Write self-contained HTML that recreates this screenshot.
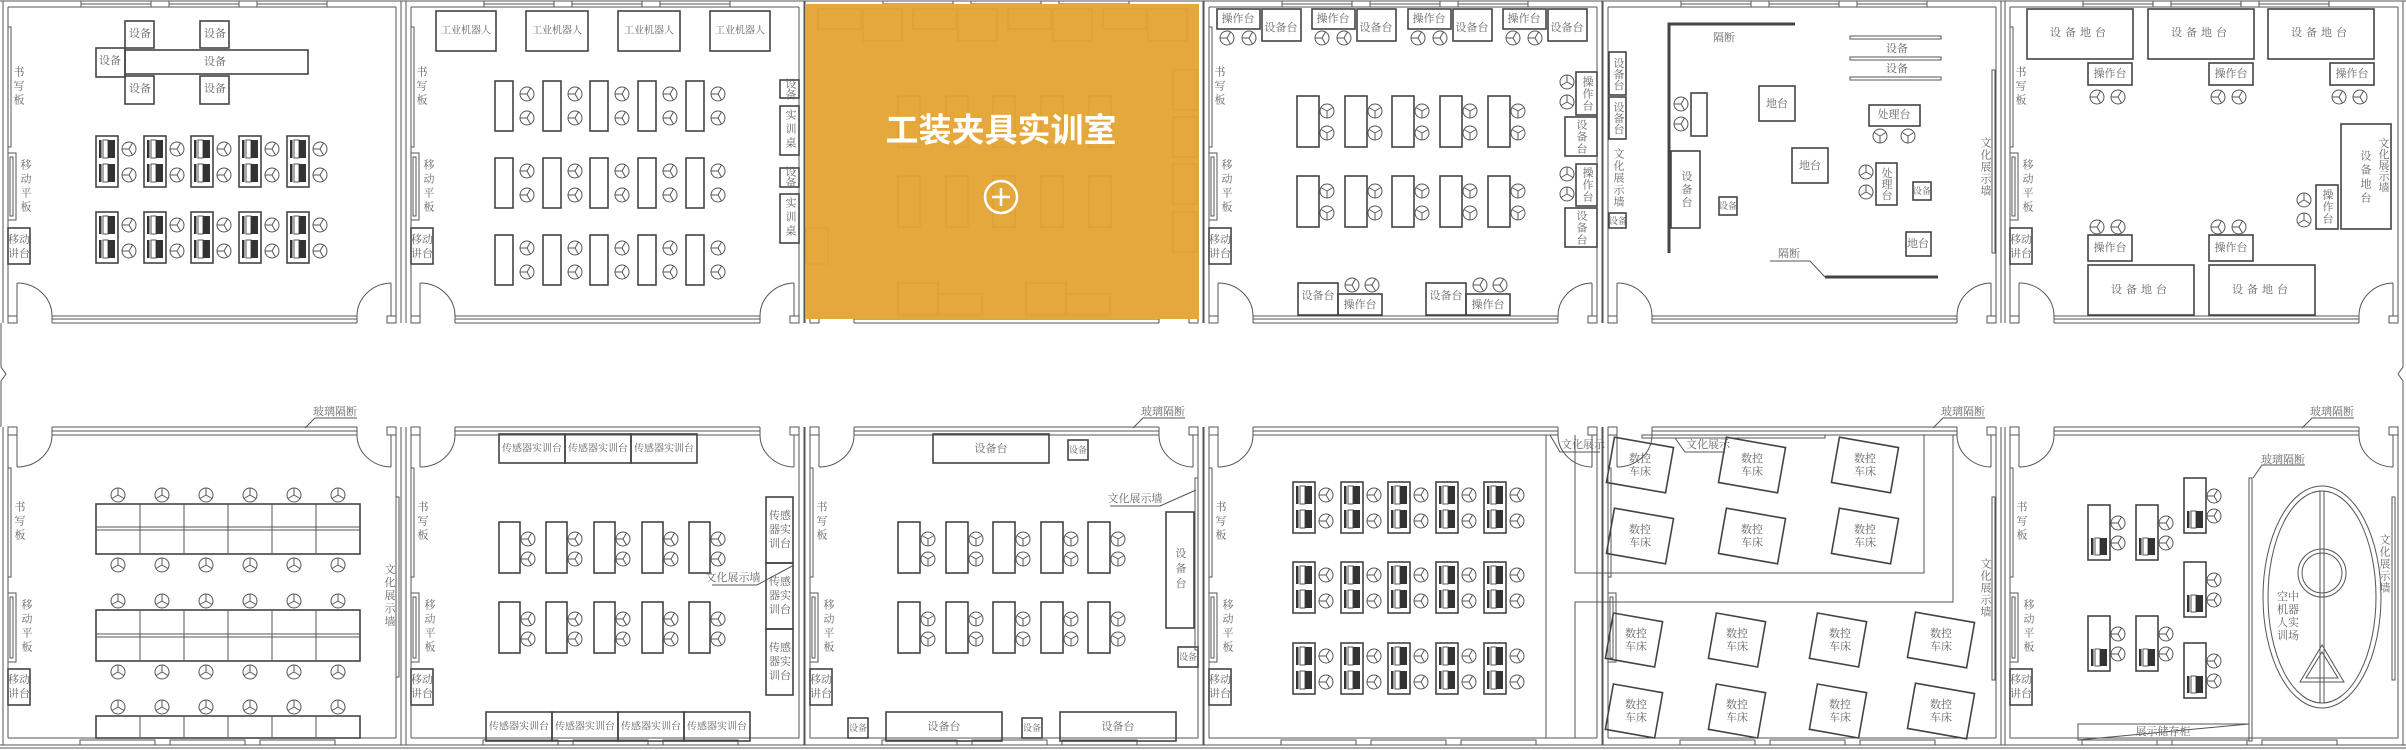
<!DOCTYPE html>
<html><head><meta charset="utf-8"><style>
html,body{margin:0;padding:0;background:#fff;}
svg{display:block;}
text{font-family:"Liberation Serif","Noto Serif CJK SC",serif;fill:#666;font-size:11px;text-anchor:middle;dominant-baseline:central;}
.v{writing-mode:vertical-rl;letter-spacing:3px;}
.b{fill:none;stroke:#444;stroke-width:1.6;}
.l{fill:none;stroke:#555;stroke-width:1;}
.t{fill:none;stroke:#444;stroke-width:3;}
</style></head><body>
<svg width="2406" height="750" viewBox="0 0 2406 750" xmlns="http://www.w3.org/2000/svg">
<defs>
<g id="c" class="l"><circle r="7"/><line x1="0" y1="0" x2="-7" y2="0"/><line x1="0" y1="0" x2="3.5" y2="-6"/><line x1="0" y1="0" x2="3.5" y2="6"/></g>
<g id="c2" class="l"><circle r="7"/><line x1="0" y1="0" x2="0" y2="-7"/><line x1="0" y1="0" x2="-6" y2="3.5"/><line x1="0" y1="0" x2="6" y2="3.5"/></g>
<g id="c3" class="l"><circle r="7"/><line x1="0" y1="0" x2="0" y2="7"/><line x1="0" y1="0" x2="-6" y2="-3.5"/><line x1="0" y1="0" x2="6" y2="-3.5"/></g>
<g id="pc"><rect x="0" y="0" width="22" height="51" class="b"/>
<rect x="3" y="4" width="2.5" height="18" fill="#333"/><rect x="7" y="4" width="5" height="18" class="l"/><rect x="12" y="4" width="7" height="18" fill="#333"/>
<rect x="3" y="28" width="2.5" height="18" fill="#333"/><rect x="7" y="28" width="5" height="18" class="l"/><rect x="12" y="28" width="7" height="18" fill="#333"/></g>
<g id="vpc"><rect x="0" y="0" width="22" height="55" class="b"/>
<rect x="3" y="33" width="2.5" height="17" fill="#333"/><rect x="7" y="33" width="5" height="17" class="l"/><rect x="12" y="33" width="7" height="17" fill="#333"/></g>
<g id="rtw" class="l">
<line x1="8" y1="7" x2="396" y2="7"/>
<rect x="81" y="1" width="70" height="6"/><line x1="81" y1="4" x2="151" y2="4"/>
<rect x="169" y="1" width="70" height="6"/><line x1="169" y1="4" x2="239" y2="4"/>
<rect x="257" y="1" width="70" height="6"/><line x1="257" y1="4" x2="327" y2="4"/>
<line x1="3" y1="1" x2="3" y2="323"/><line x1="8" y1="7" x2="8" y2="316"/>
<line x1="396" y1="7" x2="396" y2="316"/><line x1="401" y1="1" x2="401" y2="323"/>
<line x1="52" y1="316" x2="357" y2="316"/><line x1="52" y1="319" x2="357" y2="319"/><line x1="52" y1="323" x2="357" y2="323"/>
<line x1="52" y1="316" x2="52" y2="323"/><line x1="357" y1="316" x2="357" y2="323"/>
<rect x="8" y="316" width="9" height="7"/><rect x="387" y="316" width="9" height="7"/>
<line x1="17" y1="283" x2="17" y2="316"/><line x1="391" y1="283" x2="391" y2="316"/>
<path d="M17,283 A35,33 0 0 1 52,316"/><path d="M391,283 A35,33 0 0 0 357,316"/>
</g>
<g id="rtb" class="l">
<rect x="8" y="27" width="3" height="120"/>
<rect x="8" y="153" width="8" height="67"/><rect x="10" y="157" width="3" height="59"/>
</g>
<g id="rbw" class="l">
<line x1="3" y1="427" x2="3" y2="745"/><line x1="8" y1="435" x2="8" y2="738"/>
<line x1="396" y1="435" x2="396" y2="738"/><line x1="401" y1="427" x2="401" y2="745"/>
<line x1="52" y1="427" x2="357" y2="427"/><line x1="52" y1="431" x2="357" y2="431"/><line x1="52" y1="435" x2="357" y2="435"/>
<line x1="52" y1="427" x2="52" y2="435"/><line x1="357" y1="427" x2="357" y2="435"/>
<rect x="8" y="427" width="9" height="8"/><rect x="387" y="427" width="9" height="8"/>
<line x1="17" y1="435" x2="17" y2="467"/><line x1="391" y1="435" x2="391" y2="467"/>
<path d="M52,435 A35,32 0 0 1 17,467"/><path d="M357,435 A35,32 0 0 0 391,467"/>
<line x1="8" y1="738" x2="396" y2="738"/>
<rect x="80" y="740" width="75" height="5"/><rect x="170" y="740" width="75" height="5"/><rect x="260" y="740" width="75" height="5"/>
</g>
<g id="rbb" class="l">
<rect x="8" y="468" width="3" height="109"/>
<rect x="8" y="593" width="8" height="69"/><rect x="10" y="597" width="3" height="61"/>
</g>
</defs>

<g class="l">
<line x1="0" y1="1" x2="2406" y2="1"/>
<line x1="0" y1="745" x2="2406" y2="745"/><line x1="0" y1="748" x2="2406" y2="748"/>
<path d="M1,323 V367 L6,374 L1,381 V427"/>
<path d="M2403,323 V367 L2398,374 L2403,381 V427"/>
</g>

<use href="#rtw" x="0"/><use href="#rtb" x="0"/>
<use href="#rtw" x="403"/><use href="#rtb" x="403"/>
<use href="#rtw" x="802"/>
<use href="#rtw" x="1201"/><use href="#rtb" x="1201"/>
<use href="#rtw" x="1600"/>
<use href="#rtw" x="2002"/><use href="#rtb" x="2002"/>
<use href="#rbw" x="0"/><use href="#rbb" x="0"/>
<use href="#rbw" x="403"/><use href="#rbb" x="403"/>
<use href="#rbw" x="802"/><use href="#rbb" x="802"/>
<use href="#rbw" x="1201"/><use href="#rbb" x="1201"/>
<use href="#rbw" x="1600"/><use href="#rbb" x="1600"/>
<use href="#rbw" x="2002"/><use href="#rbb" x="2002"/>

<text class="v" x="18" y="87">书写板</text><text class="v" x="25" y="187">移动平板</text>
<rect class="b" x="8" y="228" width="22" height="36"/><text x="19" y="240">移动</text><text x="19" y="254">讲台</text>
<text class="v" x="421" y="87">书写板</text><text class="v" x="428" y="187">移动平板</text>
<rect class="b" x="411" y="228" width="22" height="36"/><text x="422" y="240">移动</text><text x="422" y="254">讲台</text>
<text class="v" x="1219" y="87">书写板</text><text class="v" x="1226" y="187">移动平板</text>
<rect class="b" x="1209" y="228" width="22" height="36"/><text x="1220" y="240">移动</text><text x="1220" y="254">讲台</text>
<text class="v" x="2020" y="87">书写板</text><text class="v" x="2027" y="187">移动平板</text>
<rect class="b" x="2010" y="228" width="22" height="36"/><text x="2021" y="240">移动</text><text x="2021" y="254">讲台</text>

<!-- ROOM 1 top -->
<g class="b">
<rect x="125" y="21" width="29" height="27"/><rect x="200" y="21" width="29" height="27"/>
<rect x="96" y="48" width="29" height="29"/><rect x="125" y="50" width="183" height="24"/>
<rect x="125" y="76" width="29" height="28"/><rect x="200" y="76" width="29" height="28"/>
</g>
<text x="140" y="34">设备</text><text x="215" y="34">设备</text><text x="110" y="61">设备</text>
<text x="215" y="62">设备</text><text x="140" y="89">设备</text><text x="215" y="89">设备</text>
<g>
<use href="#pc" x="96" y="136"/><use href="#pc" x="144" y="136"/><use href="#pc" x="191" y="136"/><use href="#pc" x="239" y="136"/><use href="#pc" x="287" y="136"/>
<use href="#pc" x="96" y="212"/><use href="#pc" x="144" y="212"/><use href="#pc" x="191" y="212"/><use href="#pc" x="239" y="212"/><use href="#pc" x="287" y="212"/>
<use href="#c" x="129" y="149"/><use href="#c" x="129" y="175"/><use href="#c" x="177" y="149"/><use href="#c" x="177" y="175"/><use href="#c" x="224" y="149"/><use href="#c" x="224" y="175"/><use href="#c" x="272" y="149"/><use href="#c" x="272" y="175"/><use href="#c" x="320" y="149"/><use href="#c" x="320" y="175"/>
<use href="#c" x="129" y="225"/><use href="#c" x="129" y="251"/><use href="#c" x="177" y="225"/><use href="#c" x="177" y="251"/><use href="#c" x="224" y="225"/><use href="#c" x="224" y="251"/><use href="#c" x="272" y="225"/><use href="#c" x="272" y="251"/><use href="#c" x="320" y="225"/><use href="#c" x="320" y="251"/>
</g>

<!-- ROOM 2 top -->
<g class="b">
<rect x="436" y="11" width="60" height="40"/><rect x="526" y="11" width="62" height="40"/><rect x="618" y="11" width="62" height="40"/><rect x="710" y="11" width="60" height="40"/>
<rect x="780" y="80" width="19" height="18"/><rect x="780" y="106" width="19" height="49"/><rect x="780" y="168" width="19" height="19"/><rect x="780" y="194" width="19" height="49"/>
</g>
<text x="466" y="31" style="font-size:10px">工业机器人</text><text x="557" y="31" style="font-size:10px">工业机器人</text><text x="649" y="31" style="font-size:10px">工业机器人</text><text x="740" y="31" style="font-size:10px">工业机器人</text>
<text class="v" x="790" y="89" style="letter-spacing:0">设备</text><text class="v" x="790" y="130">实训桌</text>
<text class="v" x="790" y="177" style="letter-spacing:0">设备</text><text class="v" x="790" y="218">实训桌</text>
<g class="b">
<rect x="495" y="81" width="18" height="50"/><rect x="543" y="81" width="18" height="50"/><rect x="590" y="81" width="18" height="50"/><rect x="638" y="81" width="18" height="50"/><rect x="686" y="81" width="18" height="50"/>
<rect x="495" y="158" width="18" height="50"/><rect x="543" y="158" width="18" height="50"/><rect x="590" y="158" width="18" height="50"/><rect x="638" y="158" width="18" height="50"/><rect x="686" y="158" width="18" height="50"/>
<rect x="495" y="235" width="18" height="50"/><rect x="543" y="235" width="18" height="50"/><rect x="590" y="235" width="18" height="50"/><rect x="638" y="235" width="18" height="50"/><rect x="686" y="235" width="18" height="50"/>
</g>
<g>
<use href="#c" x="527" y="94"/><use href="#c" x="527" y="118"/><use href="#c" x="575" y="94"/><use href="#c" x="575" y="118"/><use href="#c" x="622" y="94"/><use href="#c" x="622" y="118"/><use href="#c" x="670" y="94"/><use href="#c" x="670" y="118"/><use href="#c" x="718" y="94"/><use href="#c" x="718" y="118"/>
<use href="#c" x="527" y="171"/><use href="#c" x="527" y="195"/><use href="#c" x="575" y="171"/><use href="#c" x="575" y="195"/><use href="#c" x="622" y="171"/><use href="#c" x="622" y="195"/><use href="#c" x="670" y="171"/><use href="#c" x="670" y="195"/><use href="#c" x="718" y="171"/><use href="#c" x="718" y="195"/>
<use href="#c" x="527" y="248"/><use href="#c" x="527" y="272"/><use href="#c" x="575" y="248"/><use href="#c" x="575" y="272"/><use href="#c" x="622" y="248"/><use href="#c" x="622" y="272"/><use href="#c" x="670" y="248"/><use href="#c" x="670" y="272"/><use href="#c" x="718" y="248"/><use href="#c" x="718" y="272"/>
</g>

<!-- ROOM 3 orange -->
<rect x="806" y="4" width="393" height="315" fill="#E5A83C"/>
<g opacity="0.15" class="l" style="stroke:#a06a10">
<rect x="818" y="9" width="43" height="20"/><rect x="863" y="9" width="39" height="32"/><rect x="913" y="9" width="43" height="20"/><rect x="958" y="9" width="39" height="32"/><rect x="1008" y="9" width="43" height="20"/><rect x="1053" y="9" width="39" height="32"/><rect x="1103" y="9" width="43" height="20"/><rect x="1148" y="9" width="39" height="32"/>
<rect x="898" y="96" width="22" height="51"/><rect x="946" y="96" width="22" height="51"/><rect x="993" y="96" width="22" height="51"/><rect x="1041" y="96" width="22" height="51"/><rect x="1089" y="96" width="22" height="51"/>
<rect x="898" y="176" width="22" height="51"/><rect x="946" y="176" width="22" height="51"/><rect x="993" y="176" width="22" height="51"/><rect x="1041" y="176" width="22" height="51"/><rect x="1089" y="176" width="22" height="51"/>
<rect x="1173" y="70" width="24" height="40"/><rect x="1173" y="117" width="24" height="40"/><rect x="1173" y="164" width="24" height="40"/><rect x="1173" y="212" width="24" height="40"/>
<rect x="898" y="283" width="40" height="32"/><rect x="938" y="294" width="44" height="21"/><rect x="1026" y="283" width="40" height="32"/><rect x="1066" y="294" width="44" height="21"/>
<rect x="806" y="228" width="22" height="36"/>
</g>
<text x="1001" y="130" style="fill:#fff;font-size:33px;font-weight:bold;font-family:'Liberation Sans','Noto Sans CJK SC',sans-serif">工装夹具实训室</text>
<circle cx="1001" cy="197" r="16" fill="none" stroke="#fff" stroke-width="2.5"/>
<line x1="992" y1="197" x2="1010" y2="197" stroke="#fff" stroke-width="2.5"/><line x1="1001" y1="188" x2="1001" y2="206" stroke="#fff" stroke-width="2.5"/>

<!-- ROOM 4 top -->
<g class="b">
<rect x="1217" y="9" width="43" height="20"/><rect x="1262" y="9" width="39" height="32"/>
<rect x="1312" y="9" width="43" height="20"/><rect x="1357" y="9" width="39" height="32"/>
<rect x="1408" y="9" width="43" height="20"/><rect x="1453" y="9" width="39" height="32"/>
<rect x="1503" y="9" width="43" height="20"/><rect x="1548" y="9" width="39" height="32"/>
<rect x="1297" y="96" width="22" height="51"/><rect x="1345" y="96" width="22" height="51"/><rect x="1392" y="96" width="22" height="51"/><rect x="1440" y="96" width="22" height="51"/><rect x="1488" y="96" width="22" height="51"/>
<rect x="1297" y="176" width="22" height="51"/><rect x="1345" y="176" width="22" height="51"/><rect x="1392" y="176" width="22" height="51"/><rect x="1440" y="176" width="22" height="51"/><rect x="1488" y="176" width="22" height="51"/>
<rect x="1576" y="72" width="21" height="43"/><rect x="1565" y="117" width="32" height="39"/>
<rect x="1576" y="164" width="21" height="42"/><rect x="1565" y="208" width="32" height="39"/>
<rect x="1298" y="283" width="40" height="32"/><rect x="1338" y="294" width="44" height="21"/>
<rect x="1426" y="283" width="40" height="32"/><rect x="1466" y="294" width="44" height="21"/>
</g>
<text x="1238" y="19">操作台</text><text x="1281" y="28">设备台</text>
<text x="1333" y="19">操作台</text><text x="1376" y="28">设备台</text>
<text x="1429" y="19">操作台</text><text x="1472" y="28">设备台</text>
<text x="1524" y="19">操作台</text><text x="1567" y="28">设备台</text>
<text class="v" x="1587" y="94" style="letter-spacing:1px">操作台</text><text class="v" x="1581" y="137" style="letter-spacing:1px">设备台</text>
<text class="v" x="1587" y="185" style="letter-spacing:1px">操作台</text><text class="v" x="1581" y="228" style="letter-spacing:1px">设备台</text>
<text x="1318" y="296">设备台</text><text x="1360" y="305">操作台</text>
<text x="1446" y="296">设备台</text><text x="1488" y="305">操作台</text>
<g>
<use href="#c" x="1227" y="38"/><use href="#c" x="1249" y="38"/><use href="#c" x="1322" y="38"/><use href="#c" x="1344" y="38"/><use href="#c" x="1418" y="38"/><use href="#c" x="1440" y="38"/><use href="#c" x="1513" y="38"/><use href="#c" x="1535" y="38"/>
<use href="#c3" x="1327" y="111"/><use href="#c3" x="1327" y="133"/><use href="#c3" x="1375" y="111"/><use href="#c3" x="1375" y="133"/><use href="#c3" x="1422" y="111"/><use href="#c3" x="1422" y="133"/><use href="#c3" x="1470" y="111"/><use href="#c3" x="1470" y="133"/><use href="#c3" x="1518" y="111"/><use href="#c3" x="1518" y="133"/>
<use href="#c3" x="1327" y="191"/><use href="#c3" x="1327" y="213"/><use href="#c3" x="1375" y="191"/><use href="#c3" x="1375" y="213"/><use href="#c3" x="1422" y="191"/><use href="#c3" x="1422" y="213"/><use href="#c3" x="1470" y="191"/><use href="#c3" x="1470" y="213"/><use href="#c3" x="1518" y="191"/><use href="#c3" x="1518" y="213"/>
<use href="#c2" x="1567" y="82"/><use href="#c2" x="1567" y="102"/><use href="#c2" x="1567" y="174"/><use href="#c2" x="1567" y="194"/>
<use href="#c" x="1352" y="285"/><use href="#c" x="1372" y="285"/><use href="#c" x="1480" y="285"/><use href="#c" x="1500" y="285"/>
</g>

<!-- ROOM 5 top -->
<g class="b">
<rect x="1609" y="52" width="17" height="43"/><rect x="1609" y="97" width="17" height="42"/><rect x="1609" y="213" width="17" height="15"/>
<rect x="1691" y="93" width="16" height="43"/><rect x="1671" y="151" width="29" height="77"/><rect x="1719" y="197" width="18" height="18"/>
<rect x="1759" y="86" width="36" height="35"/><rect x="1792" y="148" width="36" height="35"/>
<rect x="1869" y="105" width="51" height="21"/><rect x="1876" y="163" width="21" height="42"/>
<rect x="1913" y="182" width="18" height="18"/><rect x="1906" y="232" width="25" height="24"/>
</g>
<text class="v" x="1618" y="74" style="letter-spacing:0">设备台</text><text class="v" x="1618" y="118" style="letter-spacing:0">设备台</text>
<text class="v" x="1618" y="178" style="letter-spacing:1px">文化展示墙</text><text x="1618" y="221" style="font-size:9px">设备</text>
<path class="t" d="M1669,253 V24 H1795"/>
<text x="1724" y="38">隔断</text>
<g class="l"><rect x="1850" y="36" width="91" height="3"/><rect x="1850" y="57" width="91" height="3"/><rect x="1850" y="77" width="91" height="3"/></g>
<text x="1897" y="49">设备</text><text x="1897" y="69">设备</text>
<text class="v" x="1686" y="190" style="letter-spacing:2px">设备台</text><text x="1728" y="206" style="font-size:9px">设备</text>
<text x="1777" y="104">地台</text><text x="1810" y="166">地台</text><text x="1894" y="115">处理台</text>
<text class="v" x="1886" y="184" style="letter-spacing:0">处理台</text><text x="1922" y="191" style="font-size:9px">设备</text><text x="1918" y="244">地台</text>
<g><use href="#c" x="1681" y="104"/><use href="#c" x="1681" y="124"/><use href="#c3" x="1880" y="136"/><use href="#c3" x="1908" y="136"/><use href="#c2" x="1866" y="172"/><use href="#c2" x="1866" y="192"/></g>
<path class="l" d="M1770,261 H1810 L1825,277"/><line class="t" x1="1825" y1="277" x2="1938" y2="277"/>
<text x="1789" y="254">隔断</text>
<rect class="l" x="1992" y="70" width="3" height="183"/>
<text class="v" x="1985" y="167" style="letter-spacing:1px">文化展示墙</text>

<!-- ROOM 6 top -->
<g class="b">
<rect x="2027" y="9" width="106" height="50"/><rect x="2148" y="9" width="106" height="50"/><rect x="2268" y="9" width="106" height="50"/>
<rect x="2088" y="63" width="44" height="22"/><rect x="2209" y="63" width="44" height="22"/><rect x="2330" y="63" width="44" height="22"/>
<rect x="2341" y="124" width="50" height="105"/><rect x="2316" y="185" width="22" height="44"/>
<rect x="2088" y="235" width="44" height="26"/><rect x="2209" y="235" width="44" height="26"/>
<rect x="2088" y="265" width="106" height="50"/><rect x="2209" y="265" width="106" height="50"/>
</g>
<text x="2080" y="33" style="letter-spacing:4px">设备地台</text><text x="2201" y="33" style="letter-spacing:4px">设备地台</text><text x="2321" y="33" style="letter-spacing:4px">设备地台</text>
<text x="2110" y="74">操作台</text><text x="2231" y="74">操作台</text><text x="2352" y="74">操作台</text>
<text class="v" x="2365" y="178" style="letter-spacing:3px">设备地台</text><text class="v" x="2383" y="165" style="letter-spacing:0">文化展示墙</text>
<text class="v" x="2327" y="207" style="letter-spacing:1px">操作台</text>
<text x="2110" y="248">操作台</text><text x="2231" y="248">操作台</text>
<text x="2141" y="290" style="letter-spacing:4px">设备地台</text><text x="2262" y="290" style="letter-spacing:4px">设备地台</text>
<g><use href="#c" x="2097" y="97"/><use href="#c" x="2118" y="97"/><use href="#c" x="2218" y="97"/><use href="#c" x="2239" y="97"/><use href="#c" x="2339" y="97"/><use href="#c" x="2360" y="97"/>
<use href="#c2" x="2304" y="200"/><use href="#c2" x="2304" y="220"/>
<use href="#c" x="2097" y="227"/><use href="#c" x="2118" y="227"/><use href="#c" x="2218" y="227"/><use href="#c" x="2239" y="227"/></g>

<text class="v" x="19" y="522">书写板</text><text class="v" x="26" y="627">移动平板</text>
<rect class="b" x="8" y="669" width="22" height="36"/><text x="19" y="680">移动</text><text x="19" y="694">讲台</text>
<text class="v" x="422" y="522">书写板</text><text class="v" x="429" y="627">移动平板</text>
<rect class="b" x="411" y="669" width="22" height="36"/><text x="422" y="680">移动</text><text x="422" y="694">讲台</text>
<text class="v" x="821" y="522">书写板</text><text class="v" x="828" y="627">移动平板</text>
<rect class="b" x="810" y="669" width="22" height="36"/><text x="821" y="680">移动</text><text x="821" y="694">讲台</text>
<text class="v" x="1220" y="522">书写板</text><text class="v" x="1227" y="627">移动平板</text>
<rect class="b" x="1209" y="669" width="22" height="36"/><text x="1220" y="680">移动</text><text x="1220" y="694">讲台</text>
<text class="v" x="2021" y="522">书写板</text><text class="v" x="2028" y="627">移动平板</text>
<rect class="b" x="2010" y="669" width="22" height="36"/><text x="2021" y="680">移动</text><text x="2021" y="694">讲台</text>

<g class="l">
<path d="M305,428 L315,418 H357"/><path d="M1133,428 L1143,418 H1185"/><path d="M1933,428 L1943,418 H1985"/><path d="M2302,428 L2312,418 H2354"/>
</g>
<text x="335" y="412">玻璃隔断</text><text x="1163" y="412">玻璃隔断</text><text x="1963" y="412">玻璃隔断</text><text x="2332" y="412">玻璃隔断</text>

<!-- B ROOM 1 -->
<g class="b">
<rect x="96" y="504" width="264" height="50"/><rect x="96" y="610" width="264" height="51"/><rect x="96" y="716" width="264" height="22"/>
</g>
<g class="l">
<line x1="96" y1="527" x2="360" y2="527"/><line x1="96" y1="530" x2="360" y2="530"/>
<line x1="96" y1="634" x2="360" y2="634"/><line x1="96" y1="637" x2="360" y2="637"/>
<line x1="140" y1="504" x2="140" y2="554"/><line x1="184" y1="504" x2="184" y2="554"/><line x1="228" y1="504" x2="228" y2="554"/><line x1="272" y1="504" x2="272" y2="554"/><line x1="316" y1="504" x2="316" y2="554"/>
<line x1="140" y1="610" x2="140" y2="661"/><line x1="184" y1="610" x2="184" y2="661"/><line x1="228" y1="610" x2="228" y2="661"/><line x1="272" y1="610" x2="272" y2="661"/><line x1="316" y1="610" x2="316" y2="661"/>
<line x1="140" y1="716" x2="140" y2="738"/><line x1="184" y1="716" x2="184" y2="738"/><line x1="228" y1="716" x2="228" y2="738"/><line x1="272" y1="716" x2="272" y2="738"/><line x1="316" y1="716" x2="316" y2="738"/>
<rect x="396" y="497" width="3" height="180"/>
</g>
<g>
<use href="#c2" x="118" y="495"/><use href="#c2" x="162" y="495"/><use href="#c2" x="206" y="495"/><use href="#c2" x="250" y="495"/><use href="#c2" x="294" y="495"/><use href="#c2" x="338" y="495"/>
<use href="#c2" x="118" y="565"/><use href="#c2" x="162" y="565"/><use href="#c2" x="206" y="565"/><use href="#c2" x="250" y="565"/><use href="#c2" x="294" y="565"/><use href="#c2" x="338" y="565"/>
<use href="#c2" x="118" y="601"/><use href="#c2" x="162" y="601"/><use href="#c2" x="206" y="601"/><use href="#c2" x="250" y="601"/><use href="#c2" x="294" y="601"/><use href="#c2" x="338" y="601"/>
<use href="#c2" x="118" y="672"/><use href="#c2" x="162" y="672"/><use href="#c2" x="206" y="672"/><use href="#c2" x="250" y="672"/><use href="#c2" x="294" y="672"/><use href="#c2" x="338" y="672"/>
<use href="#c2" x="118" y="707"/><use href="#c2" x="162" y="707"/><use href="#c2" x="206" y="707"/><use href="#c2" x="250" y="707"/><use href="#c2" x="294" y="707"/><use href="#c2" x="338" y="707"/>
</g>
<text class="v" x="389" y="596" style="letter-spacing:2px">文化展示墙</text>

<!-- B ROOM 2 -->
<g class="b">
<rect x="499" y="434" width="66" height="29"/><rect x="565" y="434" width="66" height="29"/><rect x="631" y="434" width="66" height="29"/>
<rect x="766" y="497" width="27" height="66"/><rect x="766" y="563" width="27" height="66"/><rect x="766" y="629" width="27" height="66"/>
<rect x="486" y="712" width="66" height="29"/><rect x="552" y="712" width="66" height="29"/><rect x="618" y="712" width="66" height="29"/><rect x="684" y="712" width="66" height="29"/>
<rect x="499" y="522" width="21" height="51"/><rect x="546" y="522" width="21" height="51"/><rect x="594" y="522" width="21" height="51"/><rect x="642" y="522" width="21" height="51"/><rect x="689" y="522" width="21" height="51"/>
<rect x="499" y="602" width="21" height="51"/><rect x="546" y="602" width="21" height="51"/><rect x="594" y="602" width="21" height="51"/><rect x="642" y="602" width="21" height="51"/><rect x="689" y="602" width="21" height="51"/>
</g>
<text x="532" y="449" style="font-size:10px">传感器实训台</text><text x="598" y="449" style="font-size:10px">传感器实训台</text><text x="664" y="449" style="font-size:10px">传感器实训台</text>
<text x="519" y="727" style="font-size:10px">传感器实训台</text><text x="585" y="727" style="font-size:10px">传感器实训台</text><text x="651" y="727" style="font-size:10px">传感器实训台</text><text x="717" y="727" style="font-size:10px">传感器实训台</text>
<text x="780" y="516">传感</text><text x="780" y="530">器实</text><text x="780" y="544">训台</text>
<text x="780" y="582">传感</text><text x="780" y="596">器实</text><text x="780" y="610">训台</text>
<text x="780" y="648">传感</text><text x="780" y="662">器实</text><text x="780" y="676">训台</text>
<path class="l" d="M712,585 H757 L794,565"/><text x="733" y="578">文化展示墙</text>
<g>
<use href="#c" x="528" y="539"/><use href="#c" x="528" y="559"/><use href="#c" x="575" y="539"/><use href="#c" x="575" y="559"/><use href="#c" x="623" y="539"/><use href="#c" x="623" y="559"/><use href="#c" x="671" y="539"/><use href="#c" x="671" y="559"/><use href="#c" x="718" y="539"/><use href="#c" x="718" y="559"/>
<use href="#c" x="528" y="619"/><use href="#c" x="528" y="639"/><use href="#c" x="575" y="619"/><use href="#c" x="575" y="639"/><use href="#c" x="623" y="619"/><use href="#c" x="623" y="639"/><use href="#c" x="671" y="619"/><use href="#c" x="671" y="639"/><use href="#c" x="718" y="619"/><use href="#c" x="718" y="639"/>
</g>

<!-- B ROOM 3 -->
<g class="b">
<rect x="933" y="434" width="116" height="29"/><rect x="1068" y="440" width="20" height="20"/>
<rect x="1166" y="512" width="28" height="116"/><rect x="1178" y="647" width="20" height="20"/>
<rect x="848" y="718" width="20" height="20"/><rect x="886" y="712" width="116" height="29"/><rect x="1022" y="718" width="20" height="20"/><rect x="1060" y="712" width="116" height="29"/>
<rect x="898" y="522" width="22" height="51"/><rect x="946" y="522" width="22" height="51"/><rect x="993" y="522" width="22" height="51"/><rect x="1041" y="522" width="22" height="51"/><rect x="1088" y="522" width="22" height="51"/>
<rect x="898" y="602" width="22" height="51"/><rect x="946" y="602" width="22" height="51"/><rect x="993" y="602" width="22" height="51"/><rect x="1041" y="602" width="22" height="51"/><rect x="1088" y="602" width="22" height="51"/>
</g>
<rect class="l" x="1195" y="478" width="3" height="172"/>
<text x="991" y="449">设备台</text><text x="1078" y="450" style="font-size:9px">设备</text>
<text class="v" x="1180" y="570" style="letter-spacing:4px">设备台</text><text x="1188" y="657" style="font-size:9px">设备</text>
<text x="858" y="728" style="font-size:9px">设备</text><text x="944" y="727">设备台</text><text x="1032" y="728" style="font-size:9px">设备</text><text x="1118" y="727">设备台</text>
<path class="l" d="M1110,506 H1160 L1196,490"/><text x="1135" y="499">文化展示墙</text>
<g>
<use href="#c3" x="928" y="539"/><use href="#c3" x="928" y="559"/><use href="#c3" x="976" y="539"/><use href="#c3" x="976" y="559"/><use href="#c3" x="1023" y="539"/><use href="#c3" x="1023" y="559"/><use href="#c3" x="1071" y="539"/><use href="#c3" x="1071" y="559"/><use href="#c3" x="1118" y="539"/><use href="#c3" x="1118" y="559"/>
<use href="#c3" x="928" y="619"/><use href="#c3" x="928" y="639"/><use href="#c3" x="976" y="619"/><use href="#c3" x="976" y="639"/><use href="#c3" x="1023" y="619"/><use href="#c3" x="1023" y="639"/><use href="#c3" x="1071" y="619"/><use href="#c3" x="1071" y="639"/><use href="#c3" x="1118" y="619"/><use href="#c3" x="1118" y="639"/>
</g>

<!-- B ROOM 4 -->
<g>
<use href="#pc" x="1293" y="482"/><use href="#pc" x="1341" y="482"/><use href="#pc" x="1388" y="482"/><use href="#pc" x="1436" y="482"/><use href="#pc" x="1484" y="482"/>
<use href="#pc" x="1293" y="562"/><use href="#pc" x="1341" y="562"/><use href="#pc" x="1388" y="562"/><use href="#pc" x="1436" y="562"/><use href="#pc" x="1484" y="562"/>
<use href="#pc" x="1293" y="643"/><use href="#pc" x="1341" y="643"/><use href="#pc" x="1388" y="643"/><use href="#pc" x="1436" y="643"/><use href="#pc" x="1484" y="643"/>
<use href="#c" x="1326" y="495"/><use href="#c" x="1326" y="521"/><use href="#c" x="1374" y="495"/><use href="#c" x="1374" y="521"/><use href="#c" x="1421" y="495"/><use href="#c" x="1421" y="521"/><use href="#c" x="1469" y="495"/><use href="#c" x="1469" y="521"/><use href="#c" x="1517" y="495"/><use href="#c" x="1517" y="521"/>
<use href="#c" x="1326" y="575"/><use href="#c" x="1326" y="601"/><use href="#c" x="1374" y="575"/><use href="#c" x="1374" y="601"/><use href="#c" x="1421" y="575"/><use href="#c" x="1421" y="601"/><use href="#c" x="1469" y="575"/><use href="#c" x="1469" y="601"/><use href="#c" x="1517" y="575"/><use href="#c" x="1517" y="601"/>
<use href="#c" x="1326" y="656"/><use href="#c" x="1326" y="682"/><use href="#c" x="1374" y="656"/><use href="#c" x="1374" y="682"/><use href="#c" x="1421" y="656"/><use href="#c" x="1421" y="682"/><use href="#c" x="1469" y="656"/><use href="#c" x="1469" y="682"/><use href="#c" x="1517" y="656"/><use href="#c" x="1517" y="682"/>
</g>
<g class="l">
<line x1="1546" y1="435" x2="1546" y2="738"/>
<path d="M1575,435 V573 H1924 V435"/>
<path d="M1953,435 V602 H1575 V738"/>
<rect x="1642" y="435" width="183" height="3"/>
<path d="M1550,435 L1560,452 H1600"/><path d="M1675,438 L1685,452 H1725"/>
<rect x="1992" y="497" width="3" height="183"/>
</g>
<text x="1583" y="445">文化展示</text><text x="1708" y="445">文化展示</text>
<text class="v" x="1985" y="588" style="letter-spacing:1px">文化展示墙</text>
<g class="b">
<rect x="-30" y="-23" width="60" height="46" transform="translate(1640,465) rotate(10)"/>
<rect x="-30" y="-23" width="60" height="46" transform="translate(1752,465) rotate(10)"/>
<rect x="-30" y="-23" width="60" height="46" transform="translate(1865,465) rotate(10)"/>
<rect x="-30" y="-23" width="60" height="46" transform="translate(1640,536) rotate(10)"/>
<rect x="-30" y="-23" width="60" height="46" transform="translate(1752,536) rotate(10)"/>
<rect x="-30" y="-23" width="60" height="46" transform="translate(1865,536) rotate(10)"/>
<rect x="-25" y="-23" width="50" height="46" transform="translate(1634,640) rotate(10)"/>
<rect x="-25" y="-23" width="50" height="46" transform="translate(1737,640) rotate(10)"/>
<rect x="-25" y="-23" width="50" height="46" transform="translate(1838,640) rotate(10)"/>
<rect x="-30" y="-23" width="60" height="46" transform="translate(1941,640) rotate(10)"/>
<rect x="-25" y="-23" width="50" height="46" transform="translate(1634,711) rotate(10)"/>
<rect x="-25" y="-23" width="50" height="46" transform="translate(1737,711) rotate(10)"/>
<rect x="-25" y="-23" width="50" height="46" transform="translate(1838,711) rotate(10)"/>
<rect x="-30" y="-23" width="60" height="46" transform="translate(1941,711) rotate(10)"/>
</g>
<text x="1640" y="459">数控</text><text x="1640" y="472">车床</text>
<text x="1752" y="459">数控</text><text x="1752" y="472">车床</text>
<text x="1865" y="459">数控</text><text x="1865" y="472">车床</text>
<text x="1640" y="530">数控</text><text x="1640" y="543">车床</text>
<text x="1752" y="530">数控</text><text x="1752" y="543">车床</text>
<text x="1865" y="530">数控</text><text x="1865" y="543">车床</text>
<text x="1636" y="634">数控</text><text x="1636" y="647">车床</text>
<text x="1737" y="634">数控</text><text x="1737" y="647">车床</text>
<text x="1840" y="634">数控</text><text x="1840" y="647">车床</text>
<text x="1941" y="634">数控</text><text x="1941" y="647">车床</text>
<text x="1636" y="705">数控</text><text x="1636" y="718">车床</text>
<text x="1737" y="705">数控</text><text x="1737" y="718">车床</text>
<text x="1840" y="705">数控</text><text x="1840" y="718">车床</text>
<text x="1941" y="705">数控</text><text x="1941" y="718">车床</text>

<!-- B ROOM 6 -->
<g>
<use href="#vpc" x="2088" y="505"/><use href="#vpc" x="2136" y="505"/><use href="#vpc" x="2184" y="478"/><use href="#vpc" x="2184" y="562"/>
<use href="#vpc" x="2088" y="616"/><use href="#vpc" x="2136" y="616"/><use href="#vpc" x="2184" y="643"/>
<use href="#c" x="2118" y="523"/><use href="#c" x="2118" y="543"/><use href="#c" x="2166" y="523"/><use href="#c" x="2166" y="543"/>
<use href="#c" x="2214" y="496"/><use href="#c" x="2214" y="516"/><use href="#c" x="2214" y="580"/><use href="#c" x="2214" y="600"/>
<use href="#c" x="2118" y="634"/><use href="#c" x="2118" y="654"/><use href="#c" x="2166" y="634"/><use href="#c" x="2166" y="654"/>
<use href="#c" x="2214" y="661"/><use href="#c" x="2214" y="681"/>
</g>
<g class="l">
<rect x="2249" y="478" width="3" height="263"/>
<path d="M2253,478 L2262,465 H2305"/>
<rect x="2078" y="724" width="171" height="16"/><line x1="2078" y1="740" x2="2249" y2="724"/>
<ellipse cx="2322" cy="597" rx="59" ry="111"/><ellipse cx="2322" cy="597" rx="54" ry="106"/>
<line x1="2320" y1="491" x2="2320" y2="703"/><line x1="2324" y1="491" x2="2324" y2="703"/>
<circle cx="2322" cy="573" r="24"/><circle cx="2322" cy="573" r="20"/>
<path d="M2322,645 L2300,682 H2344 Z"/><path d="M2322,652 L2306,678 H2338 Z"/>
<rect x="2392" y="497" width="3" height="183"/>
</g>
<text x="2283" y="460">玻璃隔断</text>
<text x="2163" y="732">展示储存柜</text>
<text x="2288" y="597">空中</text><text x="2288" y="610">机器</text><text x="2288" y="623">人实</text><text x="2288" y="636">训场</text>
<text class="v" x="2384" y="564" style="letter-spacing:1px">文化展示墙</text>
</svg>
</body></html>
